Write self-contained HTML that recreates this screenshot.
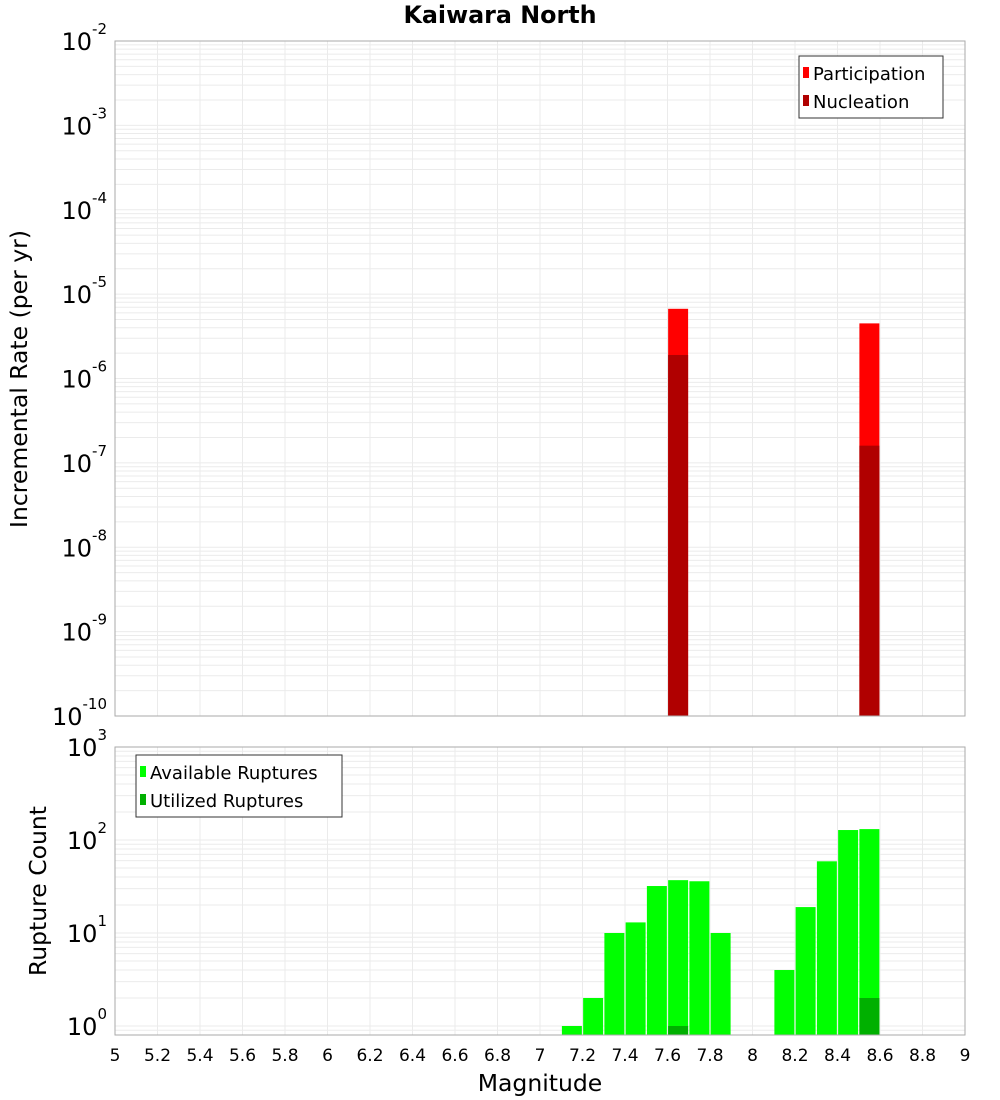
<!DOCTYPE html>
<html><head><meta charset="utf-8"><title>Kaiwara North</title>
<style>
html,body{margin:0;padding:0;background:#fff;}
svg{display:block;font-family:"DejaVu Sans","Liberation Sans",sans-serif;}
</style></head>
<body>
<svg id="chart" width="1000" height="1100" viewBox="0 0 1000 1100" xmlns="http://www.w3.org/2000/svg">
<text x="500" y="23" text-anchor="middle" font-size="23.8" font-weight="bold">Kaiwara North</text>
<text x="0" y="0" transform="translate(27,379) rotate(-90)" text-anchor="middle" font-size="23.5">Incremental Rate (per yr)</text>
<text x="0" y="0" transform="translate(46,891) rotate(-90)" text-anchor="middle" font-size="23.5">Rupture Count</text>
<text x="540" y="1091" text-anchor="middle" font-size="23.5">Magnitude</text>
<g id="topPlot"></g>
<g id="botPlot"></g>
</svg>
<script>
const rateMags = [7.65, 8.55];
const participation = [6.7e-6, 4.5e-6];
const nucleation = [1.9e-6, 1.6e-7];
const countMags = [7.15, 7.25, 7.35, 7.45, 7.55, 7.65, 7.75, 7.85, 8.15, 8.25, 8.35, 8.45, 8.55];
const available = [1, 2, 10, 13, 32, 37, 36, 10, 4, 19, 59, 128, 131];
const utilized = [0, 0, 0, 0, 0, 1, 0, 0, 0, 0, 0, 0, 2];
const xTicks = ["5","5.2","5.4","5.6","5.8","6","6.2","6.4","6.6","6.8","7","7.2","7.4","7.6","7.8","8","8.2","8.4","8.6","8.8","9"];
const topExps = [-10,-9,-8,-7,-6,-5,-4,-3,-2];
const botExps = [0,1,2,3];

const NS = "http://www.w3.org/2000/svg";
const X0 = 115, X1 = 965, XMIN = 5, XMAX = 9;
const xs = v => X0 + (v - XMIN) / (XMAX - XMIN) * (X1 - X0);
const T_TOP = 41, T_BOT = 716;
const yTop = v => T_BOT - (Math.log10(v) + 10) / 8 * (T_BOT - T_TOP);
const B_TOP = 747, B_BOT = 1035, B_DEC = 93, B_ZERO = 1026;
const yBot = v => B_ZERO - Math.log10(v) * B_DEC;
const BW = 0.094;

function mk(parent, tag, attrs) {
  const e = document.createElementNS(NS, tag);
  for (const k in attrs) e.setAttribute(k, attrs[k]);
  parent.appendChild(e);
  return e;
}

function grid(g, gt, gb, exps, yf, name) {
  const gg = mk(g, 'g', {});
  
  
  xTicks.forEach(t => {
    const x = xs(parseFloat(t));
    mk(gg, 'line', {x1: x, x2: x, y1: gt, y2: gb, stroke: '#ebebeb', 'stroke-width': 1});
  });
  for (let e = exps[0] - 1; e <= exps[exps.length - 1]; e++) {
    for (let m = 1; m <= 9; m++) {
      const y = yf(m * Math.pow(10, e));
      if (y < gt - 0.5 || y > gb + 0.5) continue;
      mk(gg, 'line', {x1: X0, x2: X1, y1: y, y2: y, stroke: '#ebebeb', 'stroke-width': 1});
    }
  }
}

function yLabels(g, exps, yf, name) {
  exps.forEach(e => {
    const y = yf(Math.pow(10, e));
    const t = mk(g, 'text', {x: 107, y: y + 9, 'text-anchor': 'end', 'font-size': 24});
    
    
    t.appendChild(document.createTextNode('10'));
    const s = mk(t, 'tspan', {dy: -16, 'font-size': 15});
    s.textContent = String(e);
  });
}

function legend(g, x, y, w, items, name) {
  const lg = mk(g, 'g', {});
  
  
  mk(lg, 'rect', {x: x, y: y, width: w, height: 62, fill: '#fff', stroke: '#333', 'stroke-width': 1});
  items.forEach((it, i) => {
    const cy = y + 17 + i * 28;
    const sw = mk(lg, 'rect', {x: x + 4, y: cy - 6, width: 6, height: 11, fill: it[1]});
    
    
    const t = mk(lg, 'text', {x: x + 14, y: cy + 7, 'font-size': 18});
    
    
    t.textContent = it[0];
  });
}

// TOP PLOT
const topG = document.getElementById('topPlot');
grid(topG, T_TOP, T_BOT, topExps, yTop, 'rate');
rateMags.forEach((m, i) => {
  const x = xs(m - BW / 2), w = xs(m + BW / 2) - x;
  const p = mk(topG, 'rect', {x: x, y: yTop(participation[i]), width: w, height: T_BOT - yTop(participation[i]), fill: '#ff0000'});
  
  
  const n = mk(topG, 'rect', {x: x, y: yTop(nucleation[i]), width: w, height: T_BOT - yTop(nucleation[i]), fill: '#b00000'});
  
  
});
mk(topG, 'rect', {x: X0, y: T_TOP, width: X1 - X0, height: T_BOT - T_TOP, fill: 'none', stroke: '#aaa', 'stroke-width': 1});
yLabels(topG, topExps, yTop, 'rate-y');
legend(topG, 799, 56, 144, [['Participation', '#ff0000'], ['Nucleation', '#b00000']], 'rate-legend');

// BOTTOM PLOT
const botG = document.getElementById('botPlot');
grid(botG, B_TOP, B_BOT, botExps, yBot, 'count');
countMags.forEach((m, i) => {
  const x = xs(m - BW / 2), w = xs(m + BW / 2) - x;
  const a = mk(botG, 'rect', {x: x, y: yBot(available[i]), width: w, height: B_BOT - yBot(available[i]), fill: '#00ff00'});
  
  
  if (utilized[i] > 0) {
    const u = mk(botG, 'rect', {x: x, y: yBot(utilized[i]), width: w, height: B_BOT - yBot(utilized[i]), fill: '#00b000'});
    
    
  }
});
mk(botG, 'rect', {x: X0, y: B_TOP, width: X1 - X0, height: B_BOT - B_TOP, fill: 'none', stroke: '#aaa', 'stroke-width': 1});
yLabels(botG, botExps, yBot, 'count-y');
legend(botG, 136, 755, 206, [['Available Ruptures', '#00ff00'], ['Utilized Ruptures', '#00b000']], 'count-legend');

xTicks.forEach(t => {
  const tx = mk(botG, 'text', {x: xs(parseFloat(t)), y: 1061, 'text-anchor': 'middle', 'font-size': 17});
  
  
  tx.textContent = t;
});
</script>
</body></html>
